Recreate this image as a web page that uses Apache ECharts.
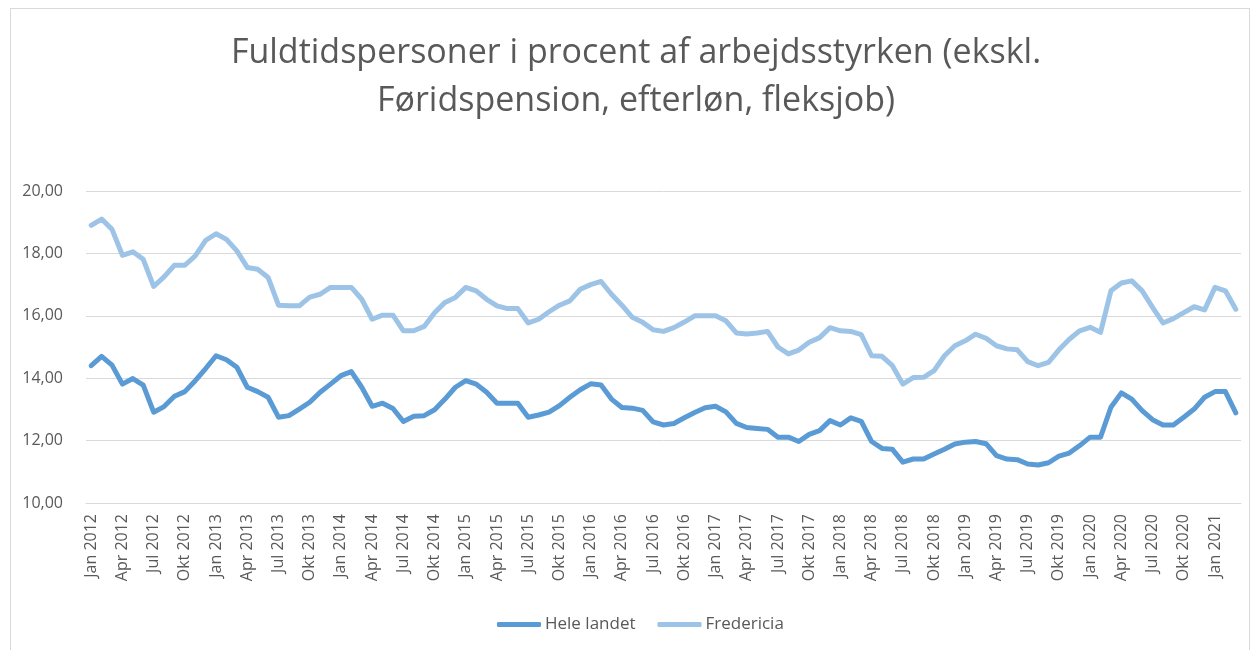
<!DOCTYPE html>
<html>
<head>
<meta charset="utf-8">
<script src="https://cdn.jsdelivr.net/npm/echarts@6/dist/echarts.min.js"></script>
<style>
  html, body { margin: 0; padding: 0; background: #fff; overflow: hidden; }
  #frame { position: absolute; left: 10px; top: 8px; width: 1238px; height: 700px; border: 1px solid #d9d9d9; }
  #chart { position: absolute; left: 0; top: 0; width: 1252px; height: 650px; }
</style>
</head>
<body>
<div id="frame"></div>
<div id="chart"></div>
<script>
// months Jan 2012 .. Mar 2021
var monthNames = ['Jan', 'Feb', 'Mar', 'Apr', 'Maj', 'Jun', 'Jul', 'Aug', 'Sep', 'Okt', 'Nov', 'Dec'];
var firstYear = 2012;
var monthCount = 111;

var heleLandet = [
  14.40, 14.70, 14.42, 13.81, 13.99, 13.78, 12.91, 13.09, 13.42, 13.57, 13.92, 14.31,
  14.72, 14.59, 14.35, 13.71, 13.57, 13.39, 12.75, 12.80, 13.01, 13.23, 13.55, 13.81,
  14.08, 14.21, 13.71, 13.10, 13.20, 13.03, 12.61, 12.78, 12.80, 12.99, 13.33, 13.71,
  13.92, 13.81, 13.55, 13.20, 13.20, 13.20, 12.75, 12.82, 12.91, 13.12, 13.39, 13.63,
  13.82, 13.78, 13.33, 13.06, 13.04, 12.97, 12.60, 12.50, 12.55, 12.73, 12.90, 13.05,
  13.10, 12.92, 12.55, 12.42, 12.39, 12.36, 12.11, 12.11, 11.97, 12.20, 12.32, 12.64,
  12.50, 12.73, 12.62, 11.97, 11.75, 11.72, 11.31, 11.41, 11.41, 11.57, 11.72, 11.89,
  11.95, 11.97, 11.90, 11.52, 11.41, 11.39, 11.25, 11.22, 11.29, 11.50, 11.60, 11.84,
  12.11, 12.11, 13.07, 13.53, 13.33, 12.96, 12.67, 12.50, 12.50, 12.75, 13.01, 13.39,
  13.57, 13.57, 12.89
];

var fredericia = [
  18.90, 19.10, 18.77, 17.94, 18.05, 17.81, 16.94, 17.25, 17.62, 17.62, 17.92, 18.42,
  18.63, 18.45, 18.08, 17.55, 17.49, 17.23, 16.34, 16.32, 16.32, 16.60, 16.69, 16.91,
  16.91, 16.91, 16.53, 15.89, 16.02, 16.02, 15.52, 15.52, 15.66, 16.10, 16.43, 16.59,
  16.91, 16.80, 16.53, 16.32, 16.23, 16.23, 15.77, 15.89, 16.13, 16.34, 16.48, 16.85,
  17.00, 17.10, 16.69, 16.34, 15.95, 15.79, 15.55, 15.50, 15.62, 15.80, 16.00, 16.00,
  16.00, 15.84, 15.45, 15.42, 15.45, 15.50, 15.00, 14.78, 14.90, 15.15, 15.30, 15.62,
  15.52, 15.50, 15.40, 14.72, 14.70, 14.40, 13.81, 14.02, 14.03, 14.24, 14.72, 15.04,
  15.20, 15.41, 15.28, 15.04, 14.94, 14.91, 14.53, 14.40, 14.51, 14.91, 15.25, 15.52,
  15.63, 15.47, 16.80, 17.05, 17.12, 16.80, 16.27, 15.77, 15.91, 16.10, 16.29, 16.19,
  16.91, 16.80, 16.21
];

var yTicks = { min: 10, max: 20, step: 2 };

var categories = [];
for (var i = 0; i < monthCount; i++) {
  categories.push(monthNames[i % 12] + ' ' + (firstYear + Math.floor(i / 12)));
}

var font = '"Open Sans", sans-serif';
var grey = '#595959';

var myChart = echarts.init(document.getElementById('chart'));
var option = {
  animation: false,
  title: {
    text: 'Fuldtidspersoner i procent af arbejdsstyrken (ekskl.\nFøridspension, efterløn, fleksjob)',
    left: 631,
    top: 24,
    textAlign: 'center',
    textStyle: {
      fontFamily: font,
      fontSize: 34,
      fontWeight: 'normal',
      color: grey,
      lineHeight: 48
    }
  },
  legend: {
    bottom: 12,
    left: 492,
    icon: 'roundRect',
    itemWidth: 44,
    itemHeight: 5,
    itemGap: 22,
    textStyle: { fontFamily: font, fontSize: 17, color: grey, padding: [0, 0, 0, -1] },
    data: ['Hele landet', 'Fredericia']
  },
  grid: {
    left: 86,
    right: 11,
    top: 191,
    bottom: 147,
    containLabel: false
  },
  xAxis: {
    type: 'category',
    boundaryGap: true,
    data: categories,
    axisLine: { lineStyle: { color: '#d9d9d9' } },
    axisTick: { show: false },
    axisLabel: {
      interval: 2,
      rotate: 90,
      margin: 11,
      fontFamily: font,
      fontSize: 16,
      color: grey
    }
  },
  yAxis: {
    type: 'value',
    min: yTicks.min,
    max: yTicks.max,
    interval: yTicks.step,
    axisLine: { show: false },
    axisTick: { show: false },
    splitLine: { lineStyle: { color: '#d9d9d9' } },
    axisLabel: {
      margin: 23,
      fontFamily: font,
      fontSize: 16,
      color: grey,
      formatter: function (v) { return v.toFixed(2).replace('.', ','); }
    }
  },
  series: [
    {
      name: 'Hele landet',
      type: 'line',
      data: heleLandet,
      symbol: 'none',
      color: '#5b9bd5',
      lineStyle: { width: 5, color: '#5b9bd5', join: 'round', cap: 'round' }
    },
    {
      name: 'Fredericia',
      type: 'line',
      data: fredericia,
      symbol: 'none',
      color: '#9dc3e6',
      lineStyle: { width: 5, color: '#9dc3e6', join: 'round', cap: 'round' }
    }
  ]
};

option && myChart.setOption(option);

window.onresize = function () {
  myChart.resize();
};
</script>
</body>
</html>
